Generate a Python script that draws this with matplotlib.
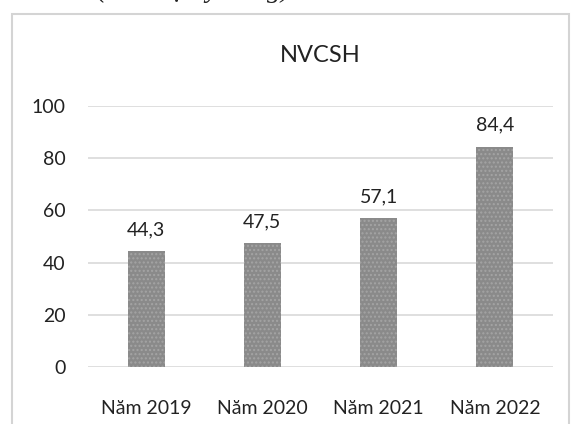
import matplotlib
matplotlib.use('Agg')
import matplotlib.pyplot as plt
from matplotlib.patches import Rectangle

# data
years = ['Năm 2019', 'Năm 2020', 'Năm 2021', 'Năm 2022']
values = [44.3, 47.5, 57.1, 84.4]
labels = ['44,3', '47,5', '57,1', '84,4']
yticks = [0, 20, 40, 60, 80, 100]

plt.rcParams['font.family'] = ['Lato', 'DejaVu Sans']

fig = plt.figure(figsize=(5.72, 4.24), dpi=100)
fig.patch.set_facecolor('white')

# outer chart frame
fig.patches.append(Rectangle((12 / 572, -0.01), 557 / 572, 1 - 14 / 424 + 0.01,
                             transform=fig.transFigure, fill=False,
                             edgecolor='#d4d4d4', linewidth=1.5))

# cut-off caption above the chart (only the descenders show)
fig.text(97 / 572, 1 + 3 / 424, '(Đơn vị: tỷ đồng)', family='Liberation Serif',
         style='italic', fontsize=20, color='#222222', ha='left', va='baseline')

ax = fig.add_axes([88 / 572, 1 - 367 / 424, 465 / 572, 261 / 424])
x = range(len(years))
ax.bar(x, values, width=0.32, color='#8a8a8a', edgecolor='#a4a4a4',
       hatch='....', linewidth=0, zorder=3)

for xi, v, lab in zip(x, values, labels):
    ax.text(xi, v + 5, lab, ha='center', va='bottom', fontsize=14, color='#222222')

ax.set_ylim(0, 100)
ax.set_xlim(-0.5, 3.5)
ax.set_yticks(yticks)
ax.set_yticklabels([str(t) for t in yticks], fontsize=14, color='#222222')
ax.set_xticks(list(x))
ax.set_xticklabels(years, fontsize=14, color='#222222')
ax.tick_params(axis='both', length=0)
ax.tick_params(axis='y', pad=16)
ax.tick_params(axis='x', pad=24)
ax.grid(axis='y', color='#d9d9d9', linewidth=1.2, zorder=0)
for s in ax.spines.values():
    s.set_visible(False)

ax.set_title('NVCSH', fontsize=17, color='#222222', pad=32)

plt.savefig('out.png', dpi=100)
